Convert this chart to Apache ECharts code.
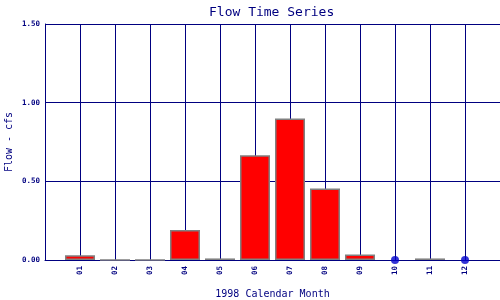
<!DOCTYPE html>
<html>
<head>
<meta charset="utf-8">
<script src="https://cdn.jsdelivr.net/npm/echarts@6/dist/echarts.min.js"></script>
<style>html,body{margin:0;padding:0;background:#fff}#c{width:500px;height:300px}</style>
</head>
<body>
<div id="c"></div>
<script>
var months = ['01','02','03','04','05','06','07','08','09','10','11','12'];
var flow = [0.03, 0, 0, 0.19, 0.01, 0.665, 0.90, 0.455, 0.035, null, 0.01, null];
var missing = [null, null, null, null, null, null, null, null, null, 0, null, 0];
var yTicks = ['0.00','0.50','1.00','1.50'];

var barData = [];
var dotData = [];
months.forEach(function (m, i) {
  if (flow[i] !== null) barData.push([i + 1, flow[i]]);
  if (missing[i] !== null) dotData.push([i + 1, missing[i]]);
});

var navy = '#000080';
var mono = 'DejaVu Sans Mono';
var chart = echarts.init(document.getElementById('c'), null, {renderer: 'canvas'});
chart.setOption({
  animation: false,
  backgroundColor: '#fff',
  title: {
    text: 'Flow Time Series',
    left: 204, top: 1,
    textStyle: {fontFamily: mono, fontSize: 13, fontWeight: 'normal', color: navy}
  },
  grid: {left: 45, right: 0, top: 24, bottom: 40, containLabel: false, outerBoundsMode: 'none'},
  xAxis: {
    type: 'value', min: 0, max: 13, interval: 1,
    name: '1998 Calendar Month', nameLocation: 'middle', nameGap: 29, nameMoveOverlap: false,
    nameTextStyle: {fontFamily: mono, fontSize: 10, color: navy},
    axisLine: {show: true, lineStyle: {color: navy, width: 1}},
    axisTick: {show: false},
    splitLine: {show: true, lineStyle: {color: navy, width: 1}},
    axisLabel: {
      rotate: 90, margin: 6, fontFamily: mono, fontSize: 7.5, fontWeight: 'bold', color: navy,
      formatter: function (v) { return (v >= 1 && v <= 12) ? months[v - 1] : ''; }
    }
  },
  yAxis: {
    type: 'value', min: 0, max: 1.5, interval: 0.5,
    name: 'Flow - cfs', nameLocation: 'middle', nameGap: 31, nameMoveOverlap: false,
    nameTextStyle: {fontFamily: mono, fontSize: 10, color: navy},
    axisLine: {show: true, lineStyle: {color: navy, width: 1}},
    axisTick: {show: false},
    splitLine: {show: true, lineStyle: {color: navy, width: 1}},
    axisLabel: {
      margin: 5, fontFamily: mono, fontSize: 7.5, fontWeight: 'bold', color: navy,
      formatter: function (v) { return yTicks[Math.round(v / 0.5)]; }
    }
  },
  series: [
    {
      type: 'bar', data: barData, barWidth: 30,
      itemStyle: {color: '#ff0000', borderColor: '#808080', borderWidth: 1.5}
    },
    {
      type: 'scatter', data: dotData, symbol: 'circle', symbolSize: 8,
      itemStyle: {color: '#0000cc'}, z: 5
    }
  ]
});
</script>
</body>
</html>
